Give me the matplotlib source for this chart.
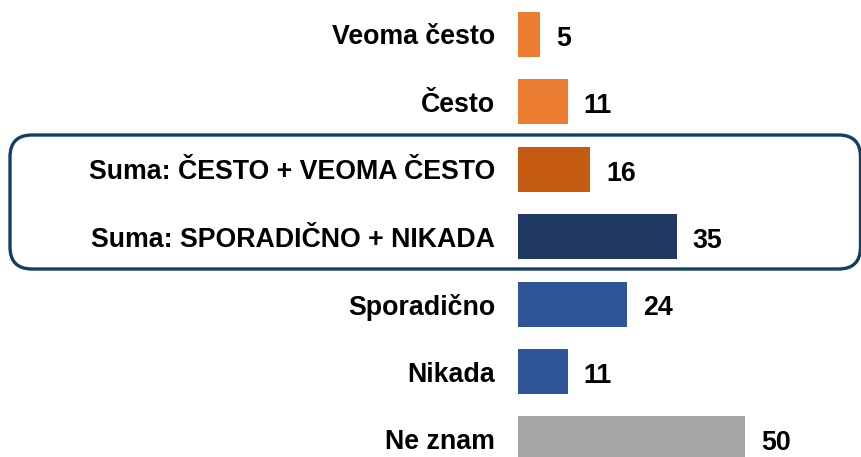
import matplotlib.pyplot as plt
from matplotlib.patches import FancyBboxPatch

plt.rcParams['font.family'] = ['Liberation Sans', 'DejaVu Sans']

categories = ["Veoma često", "Često", "Suma: ČESTO + VEOMA ČESTO",
              "Suma: SPORADIČNO + NIKADA", "Sporadično", "Nikada", "Ne znam"]
values = [5, 11, 16, 35, 24, 11, 50]
colors = ["#ED7D31", "#ED7D31", "#C55A11", "#203864", "#2F5597", "#2F5597", "#A5A5A5"]

W, H = 862, 457
fig = plt.figure(figsize=(W / 100, H / 100), dpi=100)

left = 517.7
px_per_unit = 4.546
ax = fig.add_axes([left / W, 0, (W - left) / W, 1])
ax.set_xlim(0, (W - left) / px_per_unit)
step = 67.4
ax.set_ylim((H - 34.5) / step, -34.5 / step)

pos = list(range(len(categories)))
ax.barh(pos, values, height=45 / step, color=colors)

for i, v in zip(pos, values):
    ax.annotate(str(v), (v, i), xytext=(11.5, -1), textcoords="offset points",
                ha="left", va="center_baseline", fontsize=19.3, fontweight="bold")

ax.set_yticks(pos)
ax.set_yticklabels(categories, fontsize=19.3, fontweight="bold")
ax.tick_params(axis="y", length=0, pad=16.3)
ax.set_xticks([])
for s in ax.spines.values():
    s.set_visible(False)

# rounded frame around the two sums
box = FancyBboxPatch((10, H - 269), 850.5, 134,
                     boxstyle="round,pad=0,rounding_size=22",
                     transform=None, fill=False, edgecolor="#123F63", linewidth=2.4)
fig.patches.append(box)

fig.savefig("out.png", dpi=100)
